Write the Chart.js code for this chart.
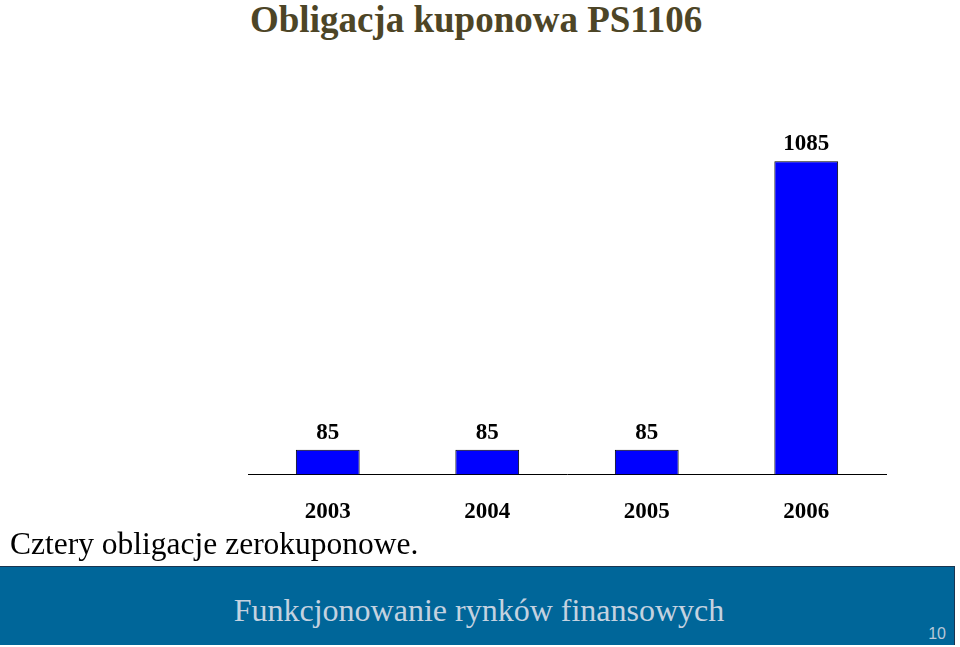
<!DOCTYPE html>
<html lang="pl">
<head>
    <meta charset="UTF-8">
    <title>Obligacja kuponowa PS1106</title>
    <style>
        body {
            margin: 0;
            width: 960px;
            height: 647px;
            position: relative;
            overflow: hidden;
            background: #ffffff;
            font-family: 'Liberation Serif', 'Times New Roman', serif;
        }

        h1 {
            position: absolute;
            left: 250px;
            top: 0;
            margin: 0;
            font-size: 37px;
            line-height: 40px;
            font-weight: bold;
            color: #4d4526; /* dark olive */
        }

        .chart-box {
            position: absolute;
            left: 0;
            top: 0;
            width: 960px;
            height: 552px;
        }

        .note {
            position: absolute;
            left: 10px;
            top: 526px;
            font-size: 31.5px;
            line-height: 36px;
            color: #000;
        }

        .footer {
            position: absolute;
            left: 0;
            top: 566px;
            width: 955px;
            height: 79px;
            background: #006699;
            border-top: 1px solid #1a3550;
            border-right: 1px solid #1a3550;
            box-sizing: border-box;
        }

        .footer .name {
            position: absolute;
            left: 0;
            width: 958px;
            top: 25px;
            text-align: center;
            font-size: 32px;
            line-height: 36px;
            color: #c4d2e0;
        }

        .footer .page {
            position: absolute;
            right: 8px;
            top: 58px;
            font-family: 'Liberation Sans', Arial, sans-serif;
            font-size: 16px;
            line-height: 18px;
            color: #b8c8d8;
        }
    </style>
</head>
<body>
    <h1>Obligacja kuponowa PS1106</h1>

    <div class="chart-box">
        <canvas id="bondChart"></canvas>
    </div>

    <div class="note">Cztery obligacje zerokuponowe.</div>

    <div class="footer">
        <div class="name">Funkcjonowanie rynków finansowych</div>
        <div class="page">10</div>
    </div>

    <script src="https://cdn.jsdelivr.net/npm/chart.js"></script>
    <script>
        const years = ['2003', '2004', '2005', '2006'];
        const payments = [85, 85, 85, 1085];

        // value labels above the bars
        const valueLabels = {
            id: 'valueLabels',
            afterDatasetsDraw(chart) {
                const ctx = chart.ctx;
                const meta = chart.getDatasetMeta(0);
                ctx.save();
                ctx.font = 'bold 23px "Liberation Serif", serif';
                ctx.fillStyle = '#000';
                ctx.textAlign = 'center';
                ctx.textBaseline = 'alphabetic';
                meta.data.forEach(function(bar, i) {
                    ctx.fillText(String(payments[i]), bar.x, bar.y - 11);
                });
                ctx.restore();
            }
        };

        const ctx = document.getElementById('bondChart').getContext('2d');
        new Chart(ctx, {
            type: 'bar',
            data: {
                labels: years,
                datasets: [{
                    data: payments,
                    backgroundColor: '#0000ff',
                    borderColor: '#000000',
                    borderWidth: 1,
                    categoryPercentage: 1,
                    barPercentage: 0.4
                }]
            },
            options: {
                responsive: true,
                maintainAspectRatio: false,
                animation: false,
                layout: {
                    padding: { left: 248, right: 74, top: 128, bottom: 10 }
                },
                plugins: {
                    legend: { display: false },
                    tooltip: { enabled: false }
                },
                scales: {
                    x: {
                        grid: { display: false },
                        border: { display: true, color: '#000', width: 1 },
                        ticks: {
                            color: '#000',
                            padding: 16,
                            font: { family: 'Liberation Serif', size: 23, weight: 'bold' }
                        }
                    },
                    y: {
                        display: false,
                        min: 0,
                        max: 1200
                    }
                }
            },
            plugins: [valueLabels]
        });
    </script>
</body>
</html>
